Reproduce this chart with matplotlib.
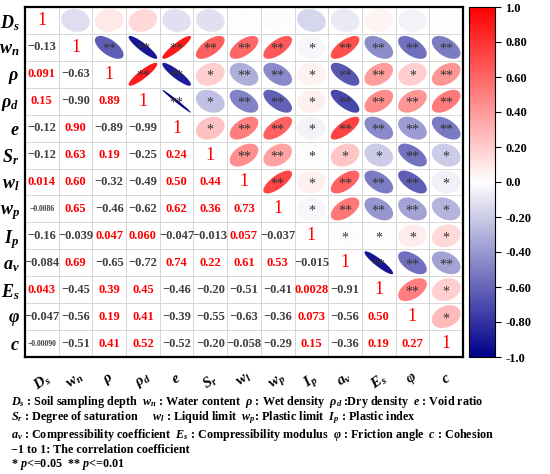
import numpy as np
import matplotlib
matplotlib.use("Agg")
import matplotlib.pyplot as plt
from matplotlib.colors import LinearSegmentedColormap, Normalize
from matplotlib.patches import Polygon
from matplotlib.colorbar import ColorbarBase

plt.rcParams['font.family'] = 'Liberation Serif'
plt.rcParams['mathtext.fontset'] = 'custom'
plt.rcParams['mathtext.rm'] = 'Liberation Serif:bold'
plt.rcParams['mathtext.it'] = 'Liberation Serif:italic:bold'
plt.rcParams['mathtext.bf'] = 'Liberation Serif:bold'

# variable names
labels = [r'$D_s$', r'$w_n$', r'$\rho$', r'$\rho_d$', r'$e$', r'$S_r$', r'$w_l$',
          r'$w_p$', r'$I_p$', r'$a_v$', r'$E_s$', r'$\varphi$', r'$c$']

# lower triangle correlation values (row i, columns 0..i-1)
lower = [
    [],
    [-0.13],
    [0.091, -0.63],
    [0.15, -0.90, 0.89],
    [-0.12, 0.90, -0.89, -0.99],
    [-0.12, 0.63, 0.19, -0.25, 0.24],
    [0.014, 0.60, -0.32, -0.49, 0.50, 0.44],
    [-0.0086, 0.65, -0.46, -0.62, 0.62, 0.36, 0.73],
    [-0.16, -0.039, 0.047, 0.060, -0.047, -0.013, 0.057, -0.037],
    [-0.084, 0.69, -0.65, -0.72, 0.74, 0.22, 0.61, 0.53, -0.015],
    [0.043, -0.45, 0.39, 0.45, -0.46, -0.20, -0.51, -0.41, 0.0028, -0.91],
    [-0.047, -0.56, 0.19, 0.41, -0.39, -0.55, -0.63, -0.36, 0.073, -0.56, 0.50],
    [-0.00090, -0.51, 0.41, 0.52, -0.52, -0.20, -0.058, -0.29, 0.15, -0.36, 0.19, 0.27],
]

# number of stars in upper triangle (row i, columns i+1..12)
stars = [
    [0, 0, 0, 0, 0, 0, 0, 0, 0, 0, 0, 0],
    [2, 2, 2, 2, 2, 2, 1, 2, 2, 2, 2],
    [2, 2, 1, 2, 2, 1, 2, 2, 1, 2],
    [2, 1, 2, 2, 1, 2, 2, 2, 2],
    [1, 2, 2, 1, 2, 2, 2, 2],
    [2, 2, 1, 1, 1, 2, 1],
    [2, 1, 2, 2, 2, 1],
    [1, 2, 2, 2, 1],
    [1, 1, 1, 1],
    [2, 2, 2],
    [2, 1],
    [1],
    [],
]

cb_ticks = [1.0, 0.8, 0.6, 0.4, 0.2, 0.0, -0.2, -0.4, -0.6, -0.8, -1.0]
cb_labels = ['1.0', '0.80', '0.60', '0.40', '0.20', '0.0', '-0.20', '-0.40', '-0.60', '-0.80', '-1.0']

n = len(labels)
cmap = LinearSegmentedColormap.from_list('bwr2', ['#00008B', '#FFFFFF', '#FF0000'])
norm = Normalize(-1, 1)

fig = plt.figure(figsize=(5.5, 4.74), dpi=100)
ax = fig.add_axes([25/550, 1-357/474, 438/550, 350/474])
ax.set_xlim(-0.5, n-0.5)
ax.set_ylim(-0.5, n-0.5)

for k in range(n-1):
    ax.axhline(k+0.5, color='#d6d6d6', lw=0.7, zorder=0)
    ax.axvline(k+0.5, color='#d6d6d6', lw=0.7, zorder=0)

t = np.linspace(0, 2*np.pi, 120)

def fmt(v):
    s = f"{v:#.2g}"
    return s.replace('-', '\u2212')

for i in range(n):
    y = n-1-i
    # diagonal
    ax.text(i, y, '1', color='#FF0000', fontsize=13, ha='center', va='center')
    for j, v in enumerate(lower[i]):
        s = fmt(v)
        small = len(s) >= 7
        col = '#FF0000' if v > 0 else '#404040'
        ax.text(j, y, s, color=col, fontsize=5.5 if small else 9,
                fontweight='bold', ha='center', va='center')
    for k, ns in enumerate(stars[i]):
        j = i+1+k
        r = lower[j][i]
        d = np.arccos(np.clip(r, -1, 1))
        ex = 0.85*np.cos(t + d/2)/2 + j
        ey = 0.85*np.cos(t - d/2)/2 + y
        ax.add_patch(Polygon(np.column_stack([ex, ey]), closed=True,
                             facecolor=cmap(norm(r)), edgecolor='none', zorder=2))
        if ns:
            ax.text(j, y-0.08, '*'*ns, color='#333333', fontsize=10,
                    ha='center', va='center', zorder=3)

ax.set_yticks(range(n))
ax.set_yticklabels(labels[::-1], fontsize=13)
ax.set_xticks(range(n))
ax.set_xticklabels(labels, fontsize=11, rotation=35, ha='center')
ax.tick_params(length=0, pad=4)
ax.tick_params(axis='x', pad=10)
for sp in ax.spines.values():
    sp.set_linewidth(1.6)

cax = fig.add_axes([469/550, 1-357/474, 26/550, 350/474])
cb = ColorbarBase(cax, cmap=cmap, norm=norm, ticks=cb_ticks)
cb.set_ticklabels(cb_labels)
cax.tick_params(labelsize=9, length=4, width=0.8)
for lab in cax.get_yticklabels():
    lab.set_fontweight('bold')
cb.outline.set_linewidth(0.8)

legend_lines = [
    r'$D_s$ : Soil sampling depth  $w_n$ : Water content  $\rho$ : Wet density  $\rho_d$ :Dry density  $e$ : Void ratio',
    r'$S_r$ : Degree of saturation     $w_l$ : Liquid limit  $w_p$: Plastic limit  $I_p$ : Plastic index',
    r'$a_v$ : Compressibility coefficient  $E_s$ : Compressibility modulus  $\varphi$ : Friction angle  $c$ : Cohesion',
    '\u22121 to 1: The correlation coefficient',
    r'* $p$<=0.05  ** $p$<=0.01',
]
for y_px, line in zip([402, 418, 435, 450, 465], legend_lines):
    fig.text(11/550, 1-y_px/474, line, fontsize=8.7, fontweight='bold', va='center', ha='left')

fig.savefig('out.png', dpi=100)
